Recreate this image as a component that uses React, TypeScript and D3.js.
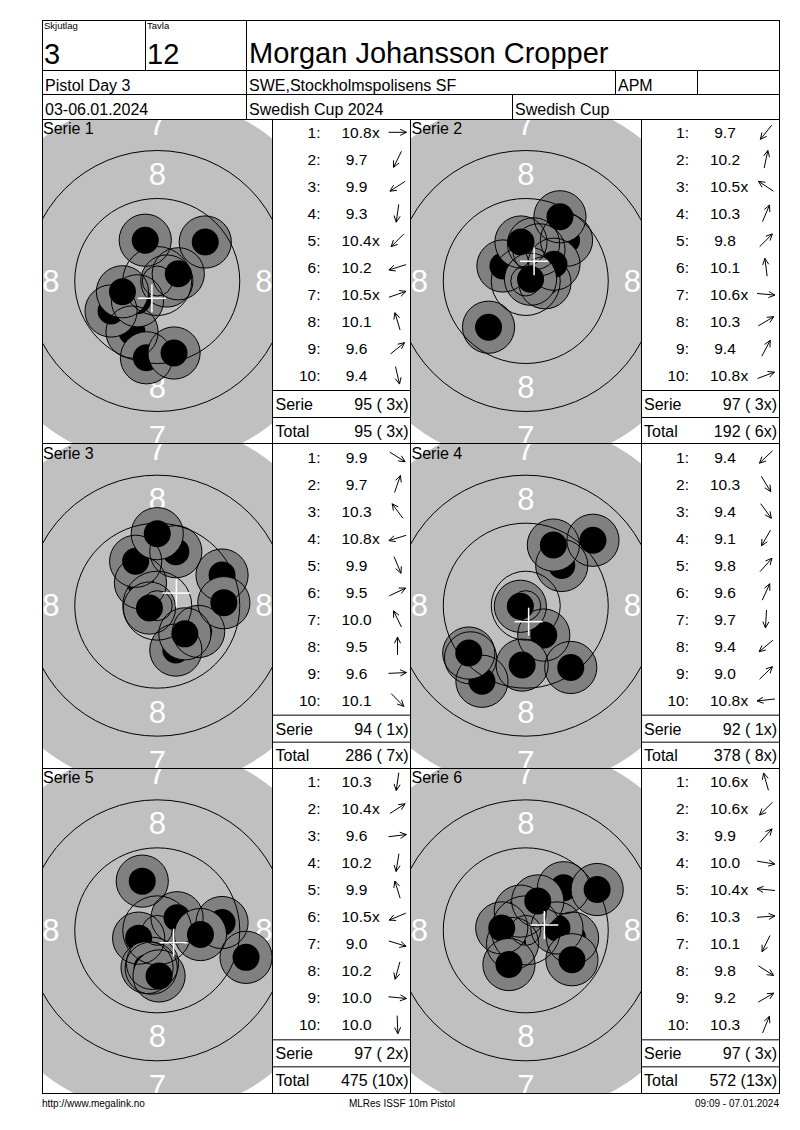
import * as d3 from "d3";

const FONT = "'Liberation Sans', Arial, sans-serif";

const seriesNames = ["Serie 1", "Serie 2", "Serie 3", "Serie 4", "Serie 5", "Serie 6"];

// shot positions in mm from the target centre, x to the right, y upward
const shots1 = [[1.6, 0.0], [-4.2, -8.5], [-7.7, -5.0], [-1.8, -12.8], [-3.3, -3.3], [-5.8, -1.8], [3.5, 1.2], [-2.0, 6.8], [8.0, 6.5], [2.8, -12.0]];
const shots2 = [[-6.2, -7.7], [1.3, 6.2], [-3.8, 2.5], [2.2, 5.2], [6.8, 6.8], [-0.8, 6.5], [3.2, -0.3], [4.7, 2.8], [5.7, 10.7], [0.8, 0.3]];
const shots3 = [[6.9, -4.3], [3.1, 9.0], [-2.8, 3.8], [-1.3, -0.4], [3.1, -7.4], [10.8, 5.1], [-3.6, 7.4], [0.0, 12.0], [11.1, 0.5], [4.6, -4.7]];
const shots4 = [[-9.2, -8.7], [3.0, -4.9], [7.5, -10.3], [-7.3, -12.6], [6.0, 6.7], [4.6, 10.1], [-0.6, -9.9], [-9.5, -7.9], [11.2, 10.9], [-0.9, -0.1]];
const shots5 = [[-0.8, -5.5], [3.3, 2.1], [10.8, 1.3], [-1.0, -6.3], [-2.5, 8.2], [-3.1, -1.3], [14.8, -4.5], [-1.7, -6.2], [7.2, -0.7], [0.3, -7.6]];
const shots6 = [[-0.9, 3.2], [-2.2, -2.2], [6.3, 7.1], [7.8, -1.3], [-4.0, 0.4], [5.2, 0.4], [-2.8, -5.7], [7.7, -4.9], [11.9, 6.8], [2.0, 4.9]];

const scores1 = ["10.8x", "9.7", "9.9", "9.3", "10.4x", "10.2", "10.5x", "10.1", "9.6", "9.4"];
const scores2 = ["9.7", "10.2", "10.5x", "10.3", "9.8", "10.1", "10.6x", "10.3", "9.4", "10.8x"];
const scores3 = ["9.9", "9.7", "10.3", "10.8x", "9.9", "9.5", "10.0", "9.5", "9.6", "10.1"];
const scores4 = ["9.4", "10.3", "9.4", "9.1", "9.8", "9.6", "9.7", "9.4", "9.0", "10.8x"];
const scores5 = ["10.3", "10.4x", "9.6", "10.2", "9.9", "10.5x", "9.0", "10.2", "10.0", "10.0"];
const scores6 = ["10.6x", "10.6x", "9.9", "10.0", "10.4x", "10.3", "10.1", "9.8", "9.2", "10.3"];

const allShots = [shots1, shots2, shots3, shots4, shots5, shots6];
const allScores = [scores1, scores2, scores3, scores4, scores5, scores6];

// ISSF 10m pistol target, mm
const ringRadii = [2.5, 5.75, 13.75, 21.75]; // inner ten, 10, 9, 8
const markRadius = 30.5;
const ringNumbers = [
  { label: "8", r: 17.75 },
  { label: "7", r: 26.1 },
];
const pelletR = 2.25;
const gaugeR = 4.35;

const header = {
  relay: "3",
  lane: "12",
  name: "Morgan Johansson Cropper",
  event: "Pistol Day 3",
  club: "SWE,Stockholmspolisens SF",
  cls: "APM",
  date: "03-06.01.2024",
  comp: "Swedish Cup 2024",
  cup: "Swedish Cup",
};

const footer = ["http://www.megalink.no", "MLRes ISSF 10m Pistol", "09:09 - 07.01.2024"];

const L = 42, R = 779, T = 20, B = 1093;
const panelTop0 = 119;
const panelH = (B - panelTop0) / 3;
const colLeft = [42, 410.5];
const targetW = 230.5;
const tableW = 138;
const PX_PER_MM = 6;

function Arrow({ x, y, angle }: { x: number; y: number; angle: number }) {
  const c = Math.cos(angle), s = Math.sin(angle);
  const half = 9;
  const tx = x + c * half, ty = y + s * half;
  const head = (a: number) => {
    const hx = tx - Math.cos(angle + a) * 7;
    const hy = ty - Math.sin(angle + a) * 7;
    return `M${tx},${ty}L${hx},${hy}`;
  };
  return (
    <path
      d={`M${x - c * half},${y - s * half}L${tx},${ty}${head(0.45)}${head(-0.45)}`}
      stroke="#000"
      strokeWidth={1}
      fill="none"
    />
  );
}

function Panel({ i }: { i: number }) {
  const row = Math.floor(i / 2), col = i % 2;
  const top = panelTop0 + row * panelH;
  const left = colLeft[col];
  const cx = left + targetW / 2;
  const cy = top + 162;
  const x = d3.scaleLinear().domain([0, 1]).range([cx, cx + PX_PER_MM]);
  const y = d3.scaleLinear().domain([0, 1]).range([cy, cy - PX_PER_MM]);
  const r = (mm: number) => x(mm) - x(0);
  const shots = allShots[i];
  const scores = allScores[i];
  const meanX = d3.mean(shots, (d) => d[0]) ?? 0;
  const meanY = d3.mean(shots, (d) => d[1]) ?? 0;
  const tl = left + targetW;

  const serieSum = d3.sum(scores, (s) => Math.floor(parseFloat(s)));
  const serieX = scores.filter((s) => s.endsWith("x")).length;
  let totalSum = 0, totalX = 0;
  for (let k = 0; k <= i; k++) {
    totalSum += d3.sum(allScores[k], (s) => Math.floor(parseFloat(s)));
    totalX += allScores[k].filter((s) => s.endsWith("x")).length;
  }
  const fmt = (v: number, n: number) => `${v} (${String(n).padStart(2, " ")}x)`;

  // ring numbers whose centre falls inside the target box
  const labels = ringNumbers.flatMap((n) =>
    [
      [0, 1],
      [0, -1],
      [-1, 0],
      [1, 0],
    ].map(([dx, dy]) => ({ label: n.label, px: x(dx * n.r), py: y(dy * n.r) }))
  ).filter((p) => p.px > left && p.px < left + targetW && p.py > top && p.py < top + panelH);

  return (
    <g>
      <clipPath id={`clip${i}`}>
        <rect x={left} y={top} width={targetW} height={panelH} />
      </clipPath>
      <g clipPath={`url(#clip${i})`}>
        <circle cx={cx} cy={cy} r={r(markRadius)} fill="#c0c0c0" />
        {labels.map((p, j) => (
          <text
            key={j}
            x={p.px}
            y={p.py}
            fill="#fff"
            fontSize={31}
            textAnchor="middle"
            dominantBaseline="central"
          >
            {p.label}
          </text>
        ))}
        {shots.map((d, k) => (
          <g key={k}>
            <circle cx={x(d[0])} cy={y(d[1])} r={r(gaugeR)} fill="#808080" />
            <circle cx={x(d[0])} cy={y(d[1])} r={r(pelletR)} fill="#000" />
          </g>
        ))}
        {shots.map((d, k) => (
          <circle key={k} cx={x(d[0])} cy={y(d[1])} r={r(gaugeR)} fill="none" stroke="#000" strokeWidth={1} />
        ))}
        {ringRadii.map((rr) => (
          <circle key={rr} cx={cx} cy={cy} r={r(rr)} fill="none" stroke="#000" strokeWidth={1} />
        ))}
        <g stroke="#fff" strokeWidth={1.5}>
          <line x1={x(meanX) - 14} x2={x(meanX) + 14} y1={y(meanY)} y2={y(meanY)} />
          <line x1={x(meanX)} x2={x(meanX)} y1={y(meanY) - 14} y2={y(meanY) + 14} />
        </g>
        <text x={left + 1} y={top + 15} fontSize={16} fill="#000">
          {seriesNames[i]}
        </text>
      </g>

      {scores.map((s, k) => {
        const rowY = top + 13.3 + k * 27;
        const num = s.replace("x", "");
        const d = shots[k];
        const angle = Math.atan2(-d[1], d[0]);
        return (
          <g key={k} fontSize={15.5}>
            <text x={tl + 48} y={rowY + 5.6} textAnchor="end">{`${k + 1}:`}</text>
            <text x={tl + 84} y={rowY + 5.6} textAnchor="middle">{num}</text>
            {s.endsWith("x") && (
              <text x={tl + 99.5} y={rowY + 5.6}>x</text>
            )}
            <Arrow x={tl + 125} y={rowY} angle={angle} />
          </g>
        );
      })}
      <line x1={tl} x2={tl + tableW} y1={top + 271.5} y2={top + 271.5} stroke="#000" />
      <line x1={tl} x2={tl + tableW} y1={top + 298.5} y2={top + 298.5} stroke="#000" />
      <g fontSize={16} style={{ whiteSpace: "pre" }}>
        <text x={tl + 3} y={top + 291}>Serie</text>
        <text x={tl + 136} y={top + 291} textAnchor="end">{fmt(serieSum, serieX)}</text>
        <text x={tl + 3} y={top + 317.5}>Total</text>
        <text x={tl + 136} y={top + 317.5} textAnchor="end">{fmt(totalSum, totalX)}</text>
      </g>
    </g>
  );
}

export default function App() {
  const vlines = [L, colLeft[0] + targetW, colLeft[1], colLeft[1] + targetW, R];
  return (
    <svg
      width={800}
      height={1130}
      style={{ position: "absolute", left: 0, top: 0, background: "#fff" }}
      fontFamily={FONT}
    >
      <rect x={0} y={0} width={800} height={1130} fill="#fff" />
      {d3.range(6).map((i) => (
        <Panel key={i} i={i} />
      ))}

      <g stroke="#000" strokeWidth={1} fill="none" shapeRendering="crispEdges">
        <rect x={L} y={T} width={R - L} height={B - T} />
        <line x1={L} x2={R} y1={70} y2={70} />
        <line x1={L} x2={R} y1={94} y2={94} />
        <line x1={L} x2={R} y1={panelTop0} y2={panelTop0} />
        <line x1={145} x2={145} y1={T} y2={70} />
        <line x1={246} x2={246} y1={T} y2={panelTop0} />
        <line x1={615} x2={615} y1={70} y2={94} />
        <line x1={697} x2={697} y1={70} y2={94} />
        <line x1={512} x2={512} y1={94} y2={panelTop0} />
        {[1, 2].map((k) => (
          <line key={k} x1={L} x2={R} y1={panelTop0 + k * panelH} y2={panelTop0 + k * panelH} />
        ))}
        {vlines.map((vx) => (
          <line key={vx} x1={vx} x2={vx} y1={panelTop0} y2={B} />
        ))}
      </g>

      <g fill="#000">
        <text x={44} y={29} fontSize={9.5}>Skjutlag</text>
        <text x={147} y={29} fontSize={9.5}>Tavla</text>
        <text x={44} y={64} fontSize={29}>{header.relay}</text>
        <text x={147} y={64} fontSize={29}>{header.lane}</text>
        <text x={249} y={63} fontSize={29}>{header.name}</text>
        <g fontSize={16}>
          <text x={45} y={90.5}>{header.event}</text>
          <text x={249} y={90.5}>{header.club}</text>
          <text x={618} y={90.5}>{header.cls}</text>
          <text x={45} y={114.5}>{header.date}</text>
          <text x={249} y={114.5}>{header.comp}</text>
          <text x={515} y={114.5}>{header.cup}</text>
        </g>
        <g fontSize={10}>
          <text x={42} y={1107}>{footer[0]}</text>
          <text x={402} y={1107} textAnchor="middle">{footer[1]}</text>
          <text x={779} y={1107} textAnchor="end">{footer[2]}</text>
        </g>
      </g>
    </svg>
  );
}
